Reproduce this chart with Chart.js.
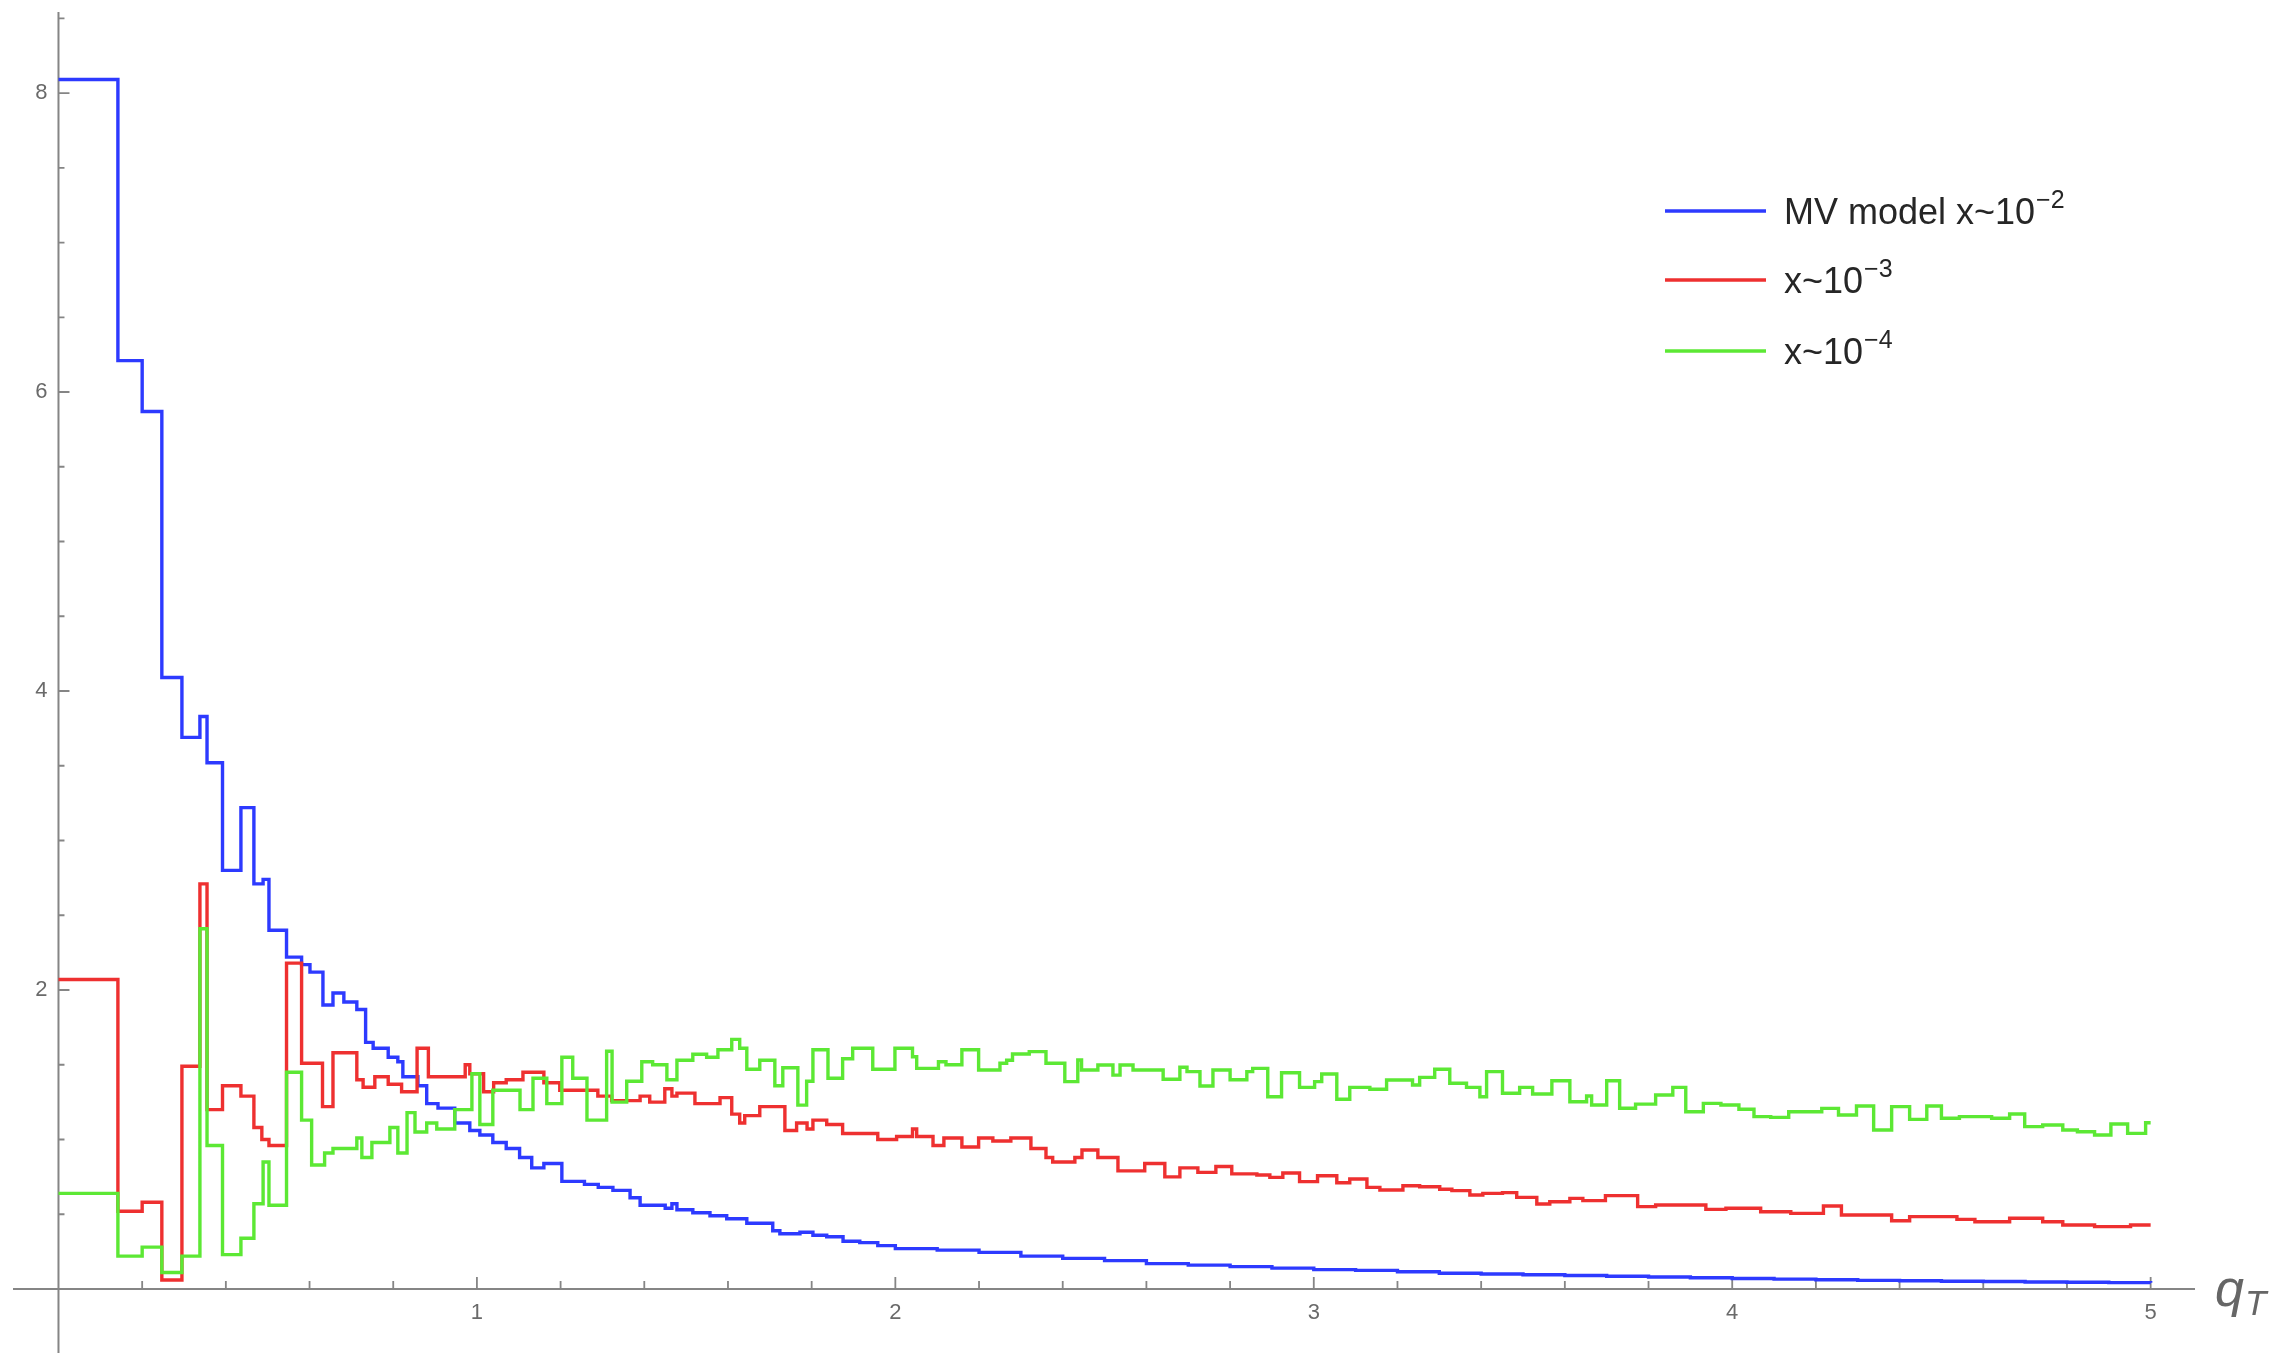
<!DOCTYPE html>
<html>
<head>
<meta charset="utf-8">
<script src="https://cdn.jsdelivr.net/npm/chart.js@4.4.1/dist/chart.umd.min.js"></script>
<style>
  html, body { margin: 0; padding: 0; background: #fff; }
  canvas { display: block; }
</style>
</head>
<body>
<canvas id="chart" width="2288" height="1353"></canvas>
<script>
// step histograms: each value holds from its edge to the next edge
const mvEdges = [0, 0.142, 0.200, 0.247, 0.295, 0.338, 0.355, 0.392, 0.436, 0.467, 0.489, 0.503, 0.545, 0.581, 0.601,
  0.632, 0.656, 0.682, 0.713, 0.734, 0.752, 0.788, 0.811, 0.823, 0.859, 0.880, 0.907, 0.947, 0.983, 1.007, 1.038,
  1.070, 1.102, 1.131, 1.160, 1.203, 1.257, 1.290, 1.325, 1.366, 1.390, 1.450, 1.466, 1.478, 1.516, 1.557, 1.597,
  1.645, 1.707, 1.724, 1.772, 1.803, 1.836, 1.875, 1.915, 1.958, 2.0, 2.1, 2.2, 2.3, 2.4, 2.5, 2.6, 2.7, 2.8, 2.9,
  3.0, 3.1, 3.2, 3.3, 3.4, 3.5, 3.6, 3.7, 3.8, 3.9, 4.0, 4.1, 4.2, 4.3, 4.4, 4.5, 4.6, 4.7, 4.8, 4.9, 5.0];
const mvValues = [8.09, 6.21, 5.87, 4.09, 3.69, 3.83, 3.52, 2.80, 3.22, 2.71, 2.74, 2.40, 2.22, 2.17, 2.12,
  1.90, 1.98, 1.92, 1.87, 1.65, 1.61, 1.55, 1.52, 1.42, 1.36, 1.24, 1.21, 1.11, 1.06, 1.03, 0.98,
  0.94, 0.88, 0.81, 0.84, 0.72, 0.70, 0.68, 0.66, 0.61, 0.56, 0.54, 0.57, 0.53, 0.51, 0.49, 0.47,
  0.44, 0.39, 0.37, 0.38, 0.36, 0.35, 0.32, 0.31, 0.29, 0.27, 0.26, 0.245, 0.22, 0.205, 0.19, 0.17, 0.16, 0.15, 0.14,
  0.13, 0.125, 0.115, 0.105, 0.10, 0.095, 0.09, 0.085, 0.08, 0.075, 0.07, 0.066, 0.062, 0.058, 0.055, 0.052, 0.05, 0.047, 0.045, 0.043, 0.042];

const x3Edges = [0, 0.142, 0.200, 0.247, 0.295, 0.338, 0.355, 0.392, 0.436, 0.467, 0.486, 0.503, 0.545, 0.581, 0.631,
  0.656, 0.713, 0.728, 0.756, 0.788, 0.820, 0.857, 0.884, 0.972, 0.983, 1.016, 1.040, 1.070, 1.110, 1.160, 1.198,
  1.289, 1.322, 1.390, 1.413, 1.449, 1.466, 1.478, 1.521, 1.581, 1.609, 1.628, 1.640, 1.676, 1.736, 1.764, 1.789,
  1.803, 1.836, 1.874, 1.958, 2.003, 2.041, 2.051, 2.090, 2.116, 2.159, 2.199, 2.233, 2.276, 2.324, 2.360, 2.376,
  2.429, 2.446, 2.484, 2.532, 2.596, 2.644, 2.680, 2.723, 2.766, 2.804, 2.864, 2.895, 2.926, 2.966, 3.009, 3.055,
  3.086, 3.127, 3.158, 3.213, 3.253, 3.301, 3.330, 3.373, 3.404, 3.451, 3.485, 3.533, 3.564, 3.612, 3.643, 3.697,
  3.774, 3.817, 3.937, 3.985, 4.068, 4.140, 4.218, 4.261, 4.381, 4.424, 4.537, 4.580, 4.663, 4.742, 4.790, 4.866,
  4.952, 5.0];
const x3Values = [2.07, 0.52, 0.58, 0.06, 1.49, 2.71, 1.20, 1.36, 1.29, 1.08, 1.00, 0.96, 2.18, 1.51, 1.22,
  1.58, 1.40, 1.35, 1.42, 1.37, 1.32, 1.61, 1.42, 1.50, 1.44, 1.32, 1.38, 1.40, 1.45, 1.38, 1.33,
  1.29, 1.26, 1.29, 1.25, 1.34, 1.29, 1.31, 1.24, 1.28, 1.17, 1.11, 1.16, 1.22, 1.06, 1.11, 1.07,
  1.13, 1.10, 1.04, 1.00, 1.02, 1.07, 1.02, 0.96, 1.01, 0.95, 1.01, 0.99, 1.01, 0.94, 0.88, 0.85,
  0.88, 0.93, 0.88, 0.79, 0.84, 0.75, 0.81, 0.78, 0.82, 0.77, 0.763, 0.747, 0.776, 0.718, 0.758, 0.711,
  0.736, 0.680, 0.662, 0.691, 0.684, 0.667, 0.658, 0.629, 0.640, 0.645, 0.613, 0.569, 0.584, 0.606, 0.591, 0.625,
  0.551, 0.562, 0.533, 0.540, 0.517, 0.506, 0.555, 0.495, 0.457, 0.484, 0.466, 0.450, 0.473, 0.450, 0.428, 0.417,
  0.428, 0.428];

const x4Edges = [0, 0.142, 0.200, 0.247, 0.295, 0.338, 0.355, 0.392, 0.436, 0.467, 0.489, 0.503, 0.545, 0.581, 0.605,
  0.636, 0.656, 0.713, 0.725, 0.749, 0.792, 0.811, 0.833, 0.852, 0.880, 0.904, 0.947, 0.988, 1.007, 1.038, 1.103,
  1.134, 1.167, 1.203, 1.229, 1.263, 1.310, 1.323, 1.358, 1.394, 1.420, 1.454, 1.478, 1.516, 1.549, 1.576, 1.609,
  1.628, 1.645, 1.676, 1.712, 1.731, 1.767, 1.788, 1.803, 1.839, 1.874, 1.898, 1.946, 1.999, 2.041, 2.051, 2.103,
  2.121, 2.159, 2.199, 2.250, 2.266, 2.280, 2.320, 2.360, 2.405, 2.436, 2.445, 2.484, 2.520, 2.537, 2.568, 2.640,
  2.680, 2.697, 2.728, 2.759, 2.800, 2.840, 2.854, 2.890, 2.923, 2.966, 3.002, 3.019, 3.055, 3.086, 3.134, 3.174,
  3.236, 3.253, 3.289, 3.325, 3.365, 3.397, 3.413, 3.451, 3.492, 3.523, 3.569, 3.612, 3.652, 3.664, 3.700, 3.731,
  3.769, 3.817, 3.858, 3.889, 3.931, 3.973, 4.016, 4.052, 4.092, 4.135, 4.214, 4.254, 4.297, 4.338, 4.381, 4.424,
  4.465, 4.500, 4.543, 4.620, 4.663, 4.699, 4.742, 4.790, 4.825, 4.866, 4.905, 4.945, 4.988, 5.0];
const x4Values = [0.64, 0.22, 0.28, 0.11, 0.22, 2.41, 0.96, 0.23, 0.34, 0.57, 0.85, 0.56, 1.45, 1.13, 0.83,
  0.91, 0.94, 1.01, 0.88, 0.98, 1.08, 0.91, 1.18, 1.05, 1.11, 1.07, 1.20, 1.44, 1.10, 1.33, 1.20,
  1.41, 1.24, 1.55, 1.41, 1.13, 1.59, 1.25, 1.39, 1.52, 1.50, 1.40, 1.53, 1.57, 1.55, 1.60, 1.67,
  1.61, 1.47, 1.53, 1.36, 1.48, 1.23, 1.39, 1.60, 1.41, 1.54, 1.61, 1.47, 1.61, 1.554, 1.476, 1.52,
  1.50, 1.60, 1.465, 1.51, 1.53, 1.572, 1.588, 1.51, 1.387, 1.532, 1.465, 1.498, 1.431, 1.498, 1.465, 1.403,
  1.483, 1.454, 1.358, 1.465, 1.40, 1.454, 1.476, 1.286, 1.447, 1.349, 1.387, 1.438, 1.269, 1.349, 1.336, 1.398,
  1.365, 1.416, 1.470, 1.376, 1.349, 1.286, 1.454, 1.309, 1.349, 1.304, 1.393, 1.253, 1.291, 1.231, 1.393, 1.209,
  1.237, 1.298, 1.349, 1.186, 1.242, 1.231, 1.202, 1.153, 1.148, 1.186, 1.208, 1.164, 1.224, 1.064, 1.220, 1.135,
  1.224, 1.142, 1.153, 1.142, 1.171, 1.086, 1.097, 1.064, 1.052, 1.030, 1.104, 1.041, 1.112, 1.112];

const seriesLabels = ['MV model x~10', 'x~10', 'x~10'];
const seriesExponents = ['\u22122', '\u22123', '\u22124'];
const seriesColors = ['rgb(45,58,255)', 'rgb(238,48,48)', 'rgb(92,232,52)'];

const xTickLabels = [1, 2, 3, 4, 5];
const yTickLabels = [2, 4, 6, 8];

const FONT = '"Liberation Sans", Arial, Helvetica, sans-serif';
const AXIS = '#858585';
const LABEL = '#6a6a6a';

function steps(edges, values) {
  return edges.map((x, i) => ({ x, y: values[i] }));
}

// Mathematica-style axes crossing at the origin, ticks pointing inward
const axesPlugin = {
  id: 'originAxes',
  beforeDatasetsDraw(chart) {
    const { ctx, chartArea: a } = chart;
    const xs = chart.scales.x, ys = chart.scales.y;
    const x0 = xs.getPixelForValue(0), y0 = ys.getPixelForValue(0);
    ctx.save();
    ctx.strokeStyle = AXIS;
    ctx.lineWidth = 2;
    ctx.beginPath();
    ctx.moveTo(a.left, y0); ctx.lineTo(a.right, y0);
    ctx.moveTo(x0, a.top); ctx.lineTo(x0, a.bottom);
    ctx.stroke();

    ctx.lineWidth = 1.8;
    ctx.beginPath();
    for (let k = 1; k <= 25; k++) {
      const px = xs.getPixelForValue(k * 0.2);
      ctx.moveTo(px, y0);
      ctx.lineTo(px, y0 - (k % 5 === 0 ? 12 : 8));
    }
    for (let k = 1; k <= 17; k++) {
      const py = ys.getPixelForValue(k * 0.5);
      ctx.moveTo(x0, py);
      ctx.lineTo(x0 + (k % 4 === 0 ? 11 : 6), py);
    }
    ctx.stroke();

    ctx.fillStyle = LABEL;
    ctx.font = '22px ' + FONT;
    ctx.textAlign = 'center';
    ctx.textBaseline = 'middle';
    xTickLabels.forEach(v => ctx.fillText(String(v), xs.getPixelForValue(v), y0 + 24));
    ctx.textAlign = 'right';
    yTickLabels.forEach(v => ctx.fillText(String(v), x0 - 11, ys.getPixelForValue(v)));

    // axis label q_T
    ctx.textAlign = 'left';
    ctx.textBaseline = 'alphabetic';
    ctx.fillStyle = '#666';
    ctx.font = 'italic 52px ' + FONT;
    ctx.fillText('q', a.right + 20, y0 + 17);
    ctx.font = 'italic 35px ' + FONT;
    ctx.fillText('T', a.right + 50, y0 + 26);
    ctx.restore();
  }
};

const legendPlugin = {
  id: 'supLegend',
  afterDraw(chart) {
    const { ctx } = chart;
    const rows = [211, 280, 351];
    ctx.save();
    chart.data.datasets.forEach((ds, i) => {
      const y = rows[i];
      ctx.strokeStyle = ds.borderColor;
      ctx.lineWidth = 3.5;
      ctx.beginPath();
      ctx.moveTo(1665, y); ctx.lineTo(1766, y);
      ctx.stroke();
      ctx.fillStyle = '#262626';
      ctx.textAlign = 'left';
      ctx.textBaseline = 'alphabetic';
      ctx.font = '36px ' + FONT;
      ctx.fillText(seriesLabels[i], 1784, y + 13);
      const w = ctx.measureText(seriesLabels[i]).width;
      ctx.font = '25px ' + FONT;
      ctx.fillText(seriesExponents[i], 1784 + w + 1, y - 3);
    });
    ctx.restore();
  }
};

const ctx = document.getElementById('chart').getContext('2d');
new Chart(ctx, {
  type: 'line',
  data: {
    datasets: [
      { label: 'MV model x~10\u207B\u00B2', data: steps(mvEdges, mvValues), borderColor: seriesColors[0], order: 3 },
      { label: 'x~10\u207B\u00B3', data: steps(x3Edges, x3Values), borderColor: seriesColors[1], order: 2 },
      { label: 'x~10\u207B\u2074', data: steps(x4Edges, x4Values), borderColor: seriesColors[2], order: 1 }
    ].map(d => Object.assign(d, {
      stepped: true, borderWidth: 3.4, pointRadius: 0, fill: false,
      borderJoinStyle: 'miter', borderCapStyle: 'butt'
    }))
  },
  options: {
    responsive: false,
    animation: false,
    devicePixelRatio: 1,
    layout: { padding: { left: 13, right: 93, top: 12, bottom: 0 } },
    scales: {
      x: { type: 'linear', min: -0.1087, max: 5.106, display: false },
      y: { type: 'linear', min: -0.428, max: 8.542, display: false }
    },
    plugins: { legend: { display: false }, tooltip: { enabled: false } }
  },
  plugins: [axesPlugin, legendPlugin]
});
</script>
</body>
</html>
